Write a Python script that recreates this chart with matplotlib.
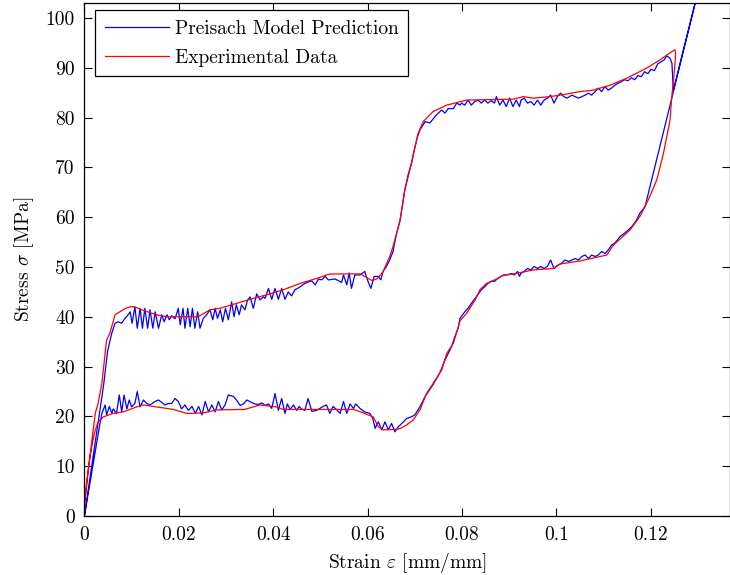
import matplotlib
matplotlib.use("Agg")
import matplotlib.pyplot as plt
from matplotlib.ticker import FuncFormatter, MultipleLocator

plt.rcParams["font.family"] = "serif"
plt.rcParams["font.serif"] = ["cmr10", "DejaVu Serif"]
plt.rcParams["mathtext.fontset"] = "cm"
plt.rcParams["axes.formatter.use_mathtext"] = True
plt.rcParams["axes.unicode_minus"] = False

# Preisach model prediction, loading branch (strain, stress)
model_load_strain = [
    0.0, 0.0041, 0.0049, 0.0058, 0.0065, 0.0072, 0.0079, 0.0086, 0.0091, 0.0097,
    0.0101, 0.0107, 0.0112, 0.0118, 0.0123, 0.0128, 0.0134, 0.0139, 0.0145, 0.0150,
    0.0157, 0.0164, 0.0169, 0.0175, 0.0180, 0.0185, 0.0192, 0.0199, 0.0203, 0.0209,
    0.0213, 0.0219, 0.0224, 0.0229, 0.0234, 0.0240, 0.0245, 0.0252, 0.0259, 0.0266,
    0.0272, 0.0277, 0.0282, 0.0288, 0.0293, 0.0299, 0.0305, 0.0312, 0.0317, 0.0322,
    0.0328, 0.0333, 0.0340, 0.0346, 0.0351, 0.0358, 0.0365, 0.0372, 0.0379, 0.0383,
    0.0390, 0.0397, 0.0404, 0.0411, 0.0418, 0.0425, 0.0432, 0.0439, 0.0446, 0.0457,
    0.0467, 0.0475, 0.0482, 0.0489, 0.0496, 0.0503, 0.0510, 0.0517, 0.0531, 0.0545,
    0.0549, 0.0556, 0.0561, 0.0566, 0.0573, 0.0584, 0.0594, 0.0601, 0.0607, 0.0614,
    0.0623, 0.0628, 0.0633, 0.0640, 0.0647, 0.0654, 0.0661, 0.0669, 0.0679, 0.0686,
    0.0693, 0.0700, 0.0707, 0.0711, 0.0722, 0.0732, 0.0743, 0.0750, 0.0757, 0.0764,
    0.0771, 0.0782, 0.0789, 0.0796, 0.0799, 0.0806, 0.0813, 0.0820, 0.0827, 0.0834,
    0.0841, 0.0848, 0.0855, 0.0862, 0.0869, 0.0873, 0.0880, 0.0887, 0.0894, 0.0901,
    0.0908, 0.0915, 0.0922, 0.0925, 0.0932, 0.0939, 0.0946, 0.0953, 0.0960, 0.0967,
    0.0974, 0.0981, 0.0988, 0.0995, 0.1002, 0.1009, 0.1016, 0.1023, 0.1033, 0.1040,
    0.1047, 0.1054, 0.1061, 0.1068, 0.1075, 0.1082, 0.1089, 0.1096, 0.1103, 0.1110,
    0.1117, 0.1124, 0.1131, 0.1138, 0.1145, 0.1152, 0.1159, 0.1166, 0.1173, 0.1180,
    0.1187, 0.1194, 0.1201, 0.1208, 0.1215, 0.1222, 0.1229, 0.1234, 0.1241, 0.1245,
    0.1248, 0.1310,
]
model_load_stress = [
    0.0, 26.5, 33.0, 36.7, 38.7, 39.0, 38.7, 39.7, 40.2, 41.0,
    38.7, 42.0, 37.7, 41.7, 37.7, 41.7, 37.7, 41.4, 37.7, 41.0,
    37.7, 40.4, 39.0, 40.4, 39.4, 40.2, 39.6, 41.7, 38.4, 41.7,
    37.7, 41.7, 38.0, 41.7, 37.7, 41.0, 37.7, 39.7, 40.4, 41.4,
    39.4, 41.7, 39.7, 41.4, 39.0, 41.7, 39.4, 43.0, 40.0, 42.4,
    40.4, 42.4, 41.4, 43.4, 44.0, 41.7, 44.6, 43.4, 44.0, 43.7,
    45.7, 43.5, 45.7, 43.5, 45.7, 43.5, 45.0, 44.2, 45.4, 46.0,
    46.7, 47.0, 47.2, 46.4, 47.6, 47.4, 48.1, 47.4, 47.6, 46.9,
    48.4, 46.4, 48.8, 45.7, 48.4, 48.4, 49.1, 47.1, 45.7, 48.1,
    48.1, 47.4, 49.1, 50.1, 51.4, 53.1, 56.5, 59.4, 65.5, 68.5,
    70.8, 74.0, 76.5, 77.5, 79.2, 78.9, 80.2, 80.9, 81.5, 80.9,
    81.8, 81.8, 82.9, 82.5, 82.9, 82.5, 83.5, 82.5, 83.2, 83.5,
    82.9, 83.5, 82.9, 83.4, 82.9, 84.2, 82.5, 83.5, 82.2, 83.9,
    82.2, 83.5, 82.2, 83.5, 83.9, 82.9, 83.2, 82.5, 83.5, 82.5,
    83.5, 83.9, 84.5, 82.9, 84.2, 84.9, 84.2, 83.9, 84.5, 84.2,
    83.9, 84.2, 84.5, 84.9, 84.5, 85.2, 85.9, 85.2, 86.2, 85.5,
    85.9, 86.5, 86.9, 87.2, 87.6, 87.4, 88.0, 87.6, 88.4, 88.2,
    89.2, 88.8, 89.7, 89.4, 90.8, 91.2, 91.6, 92.4, 91.9, 90.9,
    85.5, 109.0,
]

# Preisach model prediction, unloading branch
model_unload_strain = [
    0.1310, 0.1188, 0.1177, 0.1170, 0.1160, 0.1145, 0.1135, 0.1124, 0.1117, 0.1110,
    0.1103, 0.1096, 0.1089, 0.1082, 0.1075, 0.1068, 0.1061, 0.1054, 0.1047, 0.1040,
    0.1033, 0.1026, 0.1018, 0.1011, 0.1004, 0.0995, 0.0988, 0.0981, 0.0974, 0.0967,
    0.0960, 0.0953, 0.0946, 0.0939, 0.0932, 0.0925, 0.0922, 0.0918, 0.0911, 0.0904,
    0.0897, 0.0890, 0.0883, 0.0876, 0.0869, 0.0862, 0.0855, 0.0848, 0.0841, 0.0838,
    0.0831, 0.0820, 0.0813, 0.0806, 0.0796, 0.0792, 0.0785, 0.0778, 0.0764, 0.0753,
    0.0739, 0.0722, 0.0711, 0.0700, 0.0693, 0.0683, 0.0676, 0.0665, 0.0658, 0.0651,
    0.0644, 0.0637, 0.0630, 0.0623, 0.0616, 0.0611, 0.0605, 0.0594, 0.0584, 0.0575,
    0.0570, 0.0563, 0.0556, 0.0549, 0.0542, 0.0535, 0.0527, 0.0520, 0.0513, 0.0506,
    0.0499, 0.0492, 0.0482, 0.0474, 0.0467, 0.0460, 0.0455, 0.0450, 0.0443, 0.0436,
    0.0430, 0.0425, 0.0418, 0.0411, 0.0404, 0.0397, 0.0390, 0.0383, 0.0376, 0.0369,
    0.0361, 0.0354, 0.0344, 0.0337, 0.0330, 0.0323, 0.0316, 0.0305, 0.0298, 0.0291,
    0.0284, 0.0277, 0.0270, 0.0263, 0.0256, 0.0249, 0.0242, 0.0235, 0.0228, 0.0220,
    0.0213, 0.0206, 0.0199, 0.0192, 0.0185, 0.0178, 0.0171, 0.0164, 0.0157, 0.0150,
    0.0139, 0.0132, 0.0125, 0.0118, 0.0112, 0.0107, 0.0100, 0.0095, 0.0090, 0.0084,
    0.0079, 0.0074, 0.0068, 0.0061, 0.0058, 0.0053, 0.0047, 0.0044, 0.0037, 0.0033,
    0.0,
]
model_unload_stress = [
    109.0, 62.1, 60.8, 59.4, 58.1, 56.8, 56.1, 54.8, 54.4, 53.4,
    52.7, 53.1, 52.4, 52.1, 52.4, 51.7, 52.4, 52.1, 51.4, 51.7,
    51.4, 51.1, 51.4, 50.7, 50.4, 49.7, 51.4, 50.1, 49.7, 50.1,
    49.7, 50.1, 49.4, 49.7, 49.1, 48.7, 48.1, 49.1, 48.4, 48.7,
    48.4, 48.4, 48.1, 47.7, 47.1, 47.1, 46.7, 46.0, 45.4, 45.0,
    44.1, 42.7, 41.7, 41.0, 39.7, 37.7, 36.0, 34.0, 31.3, 28.7,
    26.4, 24.0, 21.9, 20.3, 19.9, 19.6, 18.9, 17.9, 16.9, 18.6,
    17.3, 18.9, 17.3, 18.9, 17.6, 19.6, 20.6, 20.9, 21.6, 22.5,
    21.6, 22.5, 20.6, 23.0, 20.6, 21.3, 22.0, 20.6, 22.3, 22.0,
    21.6, 21.2, 21.0, 23.6, 21.2, 21.5, 22.0, 21.2, 22.3, 21.4,
    22.5, 20.6, 23.6, 21.2, 24.6, 21.6, 22.5, 22.2, 22.7, 22.4,
    22.5, 22.8, 23.3, 22.5, 22.2, 23.2, 24.0, 24.3, 22.3, 21.3,
    23.0, 20.9, 22.3, 20.9, 23.0, 20.3, 22.0, 20.6, 22.0, 21.2,
    22.3, 21.5, 23.0, 23.6, 22.6, 22.6, 22.3, 22.8, 23.3, 23.0,
    22.3, 22.6, 23.3, 21.9, 25.0, 22.6, 21.9, 23.3, 21.5, 24.3,
    20.9, 24.3, 20.6, 21.5, 20.6, 22.0, 20.3, 22.3, 20.6, 18.6,
    0.0,
]

# Experimental data, loading branch
exp_load_strain = [
    0.0, 0.0008, 0.0016, 0.0023, 0.0029, 0.0037, 0.0047, 0.0054, 0.0065, 0.0075,
    0.0087, 0.0097, 0.0107, 0.0121, 0.0153, 0.0175, 0.0203, 0.0241, 0.0266, 0.0287,
    0.0323, 0.0358, 0.0386, 0.0421, 0.0457, 0.0492, 0.0520, 0.0584, 0.0594, 0.0609,
    0.0620, 0.0633, 0.0647, 0.0654, 0.0669, 0.0679, 0.0693, 0.0707, 0.0718, 0.0739,
    0.0768, 0.0810, 0.0909, 0.0930, 0.0951, 0.0986, 0.1008, 0.1050, 0.1078, 0.1114,
    0.1149, 0.1191, 0.1220, 0.1241, 0.1251, 0.1253,
]
exp_load_stress = [
    1.5, 9.0, 15.3, 20.6, 22.6, 26.6, 35.3, 36.7, 40.4, 41.0,
    41.7, 42.0, 42.0, 41.4, 40.4, 40.0, 40.0, 40.0, 41.4, 41.7,
    42.7, 43.7, 44.4, 45.4, 46.7, 47.7, 48.6, 48.6, 48.1, 47.3,
    47.6, 49.1, 52.1, 54.1, 59.4, 65.5, 70.8, 76.8, 79.2, 81.2,
    82.5, 83.5, 83.7, 84.2, 83.9, 84.2, 84.5, 85.2, 85.5, 86.5,
    87.9, 89.9, 91.6, 93.0, 93.6, 92.9,
]

# Experimental data, unloading branch
exp_unload_strain = [
    0.1251, 0.1244, 0.1241, 0.1227, 0.1213, 0.1195, 0.1177, 0.1156, 0.1121, 0.1107,
    0.1050, 0.1008, 0.0993, 0.0951, 0.0909, 0.0888, 0.0874, 0.0852, 0.0838, 0.0828,
    0.0810, 0.0796, 0.0782, 0.0768, 0.0757, 0.0739, 0.0725, 0.0711, 0.0697, 0.0683,
    0.0670, 0.0662, 0.0633, 0.0623, 0.0612, 0.0591, 0.0570, 0.0421, 0.0407, 0.0372,
    0.0340, 0.0280, 0.0252, 0.0217, 0.0188, 0.0125, 0.0111, 0.0082, 0.0061, 0.0040,
    0.0029, 0.0022, 0.0019, 0.0012, 0.0005, 0.0,
]
exp_unload_stress = [
    90.2, 83.5, 79.5, 72.8, 67.5, 63.5, 60.1, 57.4, 54.4, 52.4,
    51.2, 50.6, 49.7, 49.4, 48.6, 48.4, 47.6, 46.7, 45.4, 43.4,
    40.7, 39.2, 34.7, 32.7, 29.3, 26.6, 24.6, 21.3, 19.3, 18.3,
    17.6, 17.4, 17.3, 17.9, 19.9, 20.7, 21.4, 21.4, 21.9, 22.3,
    21.4, 21.3, 20.7, 20.6, 21.4, 22.3, 21.9, 20.9, 20.6, 19.9,
    18.9, 16.9, 15.6, 12.0, 7.0, 3.0,
]


def tick_label(v, pos):
    return "%g" % round(v, 4)


fig = plt.figure(figsize=(7.3, 5.75), dpi=100)
ax = fig.add_axes([84.4 / 730, 59 / 575, (729.5 - 84.4) / 730, (572 - 59) / 575])

ax.plot(model_load_strain + model_unload_strain,
        model_load_stress + model_unload_stress,
        color="#0000ff", lw=0.9, label="Preisach Model Prediction")
ax.plot(exp_load_strain + exp_unload_strain,
        exp_load_stress + exp_unload_stress,
        color="#ff0000", lw=0.9, label="Experimental Data")

ax.set_xlim(0, 0.1367)
ax.set_ylim(0, 103)
ax.xaxis.set_major_locator(MultipleLocator(0.02))
ax.yaxis.set_major_locator(MultipleLocator(10))
ax.xaxis.set_major_formatter(FuncFormatter(tick_label))
ax.yaxis.set_major_formatter(FuncFormatter(tick_label))
ax.tick_params(direction="in", top=True, right=True, length=5.5, width=0.8,
               labelsize=14, pad=7)
for s in ax.spines.values():
    s.set_linewidth(0.9)

ax.set_xlabel(r"Strain $\varepsilon$ [mm/mm]", fontsize=14, labelpad=5)
ax.set_ylabel(r"Stress $\sigma$ [MPa]", fontsize=14, labelpad=7)

leg = ax.legend(loc="upper left", bbox_to_anchor=(0.0164, 0.986), borderaxespad=0,
                fancybox=False, framealpha=1, edgecolor="black", fontsize=14,
                handlelength=3.3, handletextpad=0.3, labelspacing=0.55,
                borderpad=0.5)
leg.get_frame().set_linewidth(0.9)

plt.savefig("out.png", dpi=100)
